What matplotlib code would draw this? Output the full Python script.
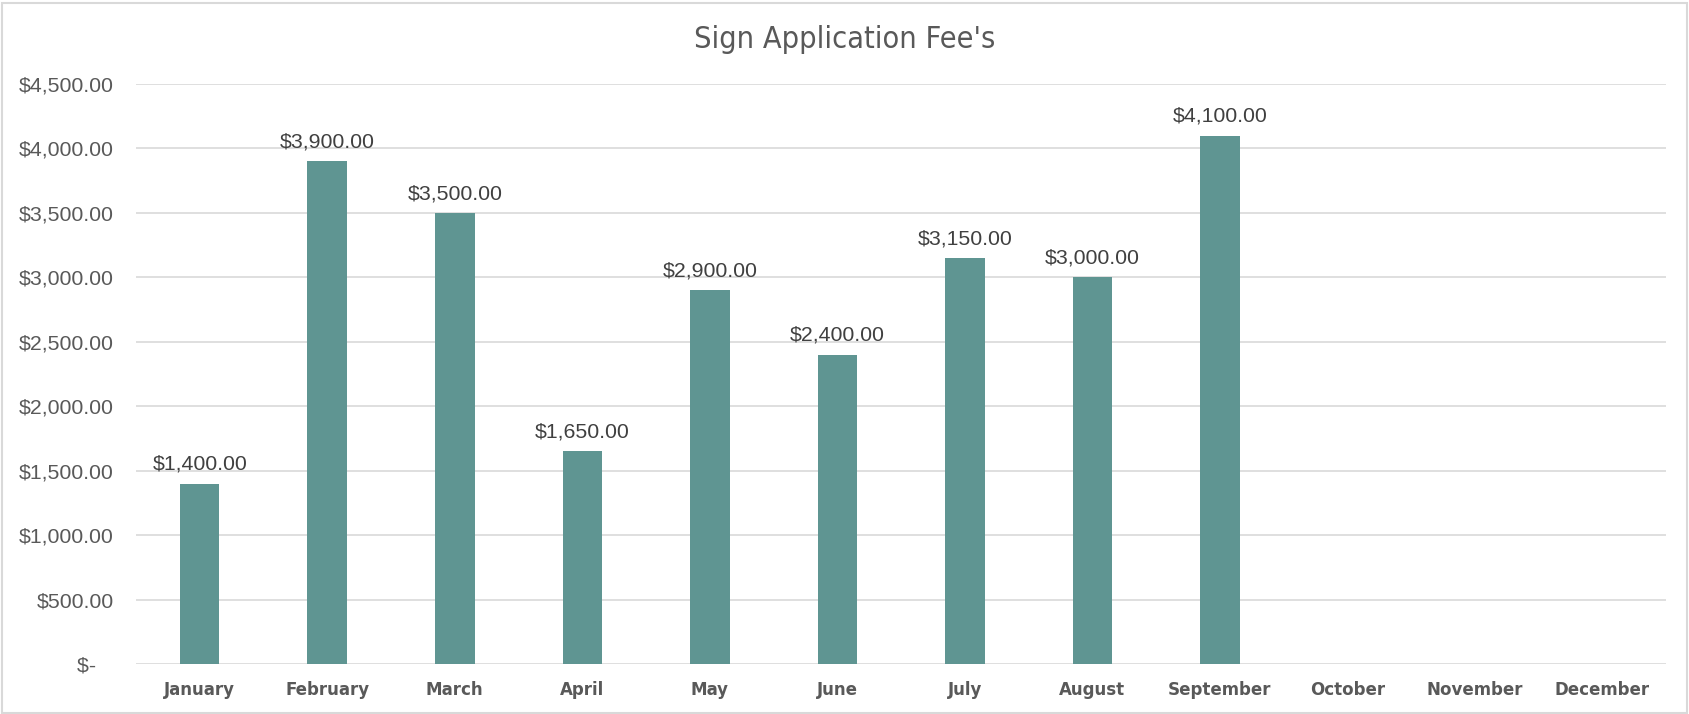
import matplotlib.pyplot as plt
from matplotlib.patches import Rectangle

months = ['January', 'February', 'March', 'April', 'May', 'June', 'July',
          'August', 'September', 'October', 'November', 'December']
fees = [1400, 3900, 3500, 1650, 2900, 2400, 3150, 3000, 4100, None, None, None]
y_ticks = [0, 500, 1000, 1500, 2000, 2500, 3000, 3500, 4000, 4500]

plain = ['Liberation Sans', 'DejaVu Sans']

fig = plt.figure(figsize=(16.89, 7.14), dpi=100)
ax = fig.add_axes([0.0805, 0.070, 0.906, 0.8123])

x = list(range(len(months)))
vals = [v if v is not None else 0 for v in fees]
ax.bar(x, vals, width=0.31, color='#5F9592', zorder=3)

# data labels above the bars
for i, v in enumerate(fees):
    if v is None:
        continue
    ax.annotate('${:,.2f}'.format(v), (i, v), xytext=(0, 10), textcoords='offset points',
                ha='center', va='baseline', fontsize=15.3, color='#404040', family=plain)

ax.set_xlim(-0.5, len(months) - 0.5)
ax.set_ylim(0, 4500)
ax.set_yticks(y_ticks)
ax.set_yticklabels(['$-   ' if t == 0 else '${:,.2f}'.format(t) for t in y_ticks],
                   fontsize=15.3, color='#595959', family=plain)
ax.set_xticks(x)
ax.set_xticklabels(months, fontsize=13.3, color='#595959', family='DejaVu Sans',
                   fontstretch='condensed', fontweight='semibold')
ax.tick_params(length=0)
ax.tick_params(axis='y', pad=16)
ax.tick_params(axis='x', pad=12)
ax.grid(axis='y', color='#D9D9D9', linewidth=1.2, zorder=0)
for s in ax.spines.values():
    s.set_visible(False)

fig.text(0.5, 0.945, "Sign Application Fee's", ha='center', va='center',
         fontsize=22, color='#595959', family='DejaVu Sans', fontstretch='condensed')

fig.patches.append(Rectangle((0.001, 0.001), 0.998, 0.995, transform=fig.transFigure,
                             fill=False, edgecolor='#D9D9D9', linewidth=1.5))

plt.savefig('out.png', dpi=100)
